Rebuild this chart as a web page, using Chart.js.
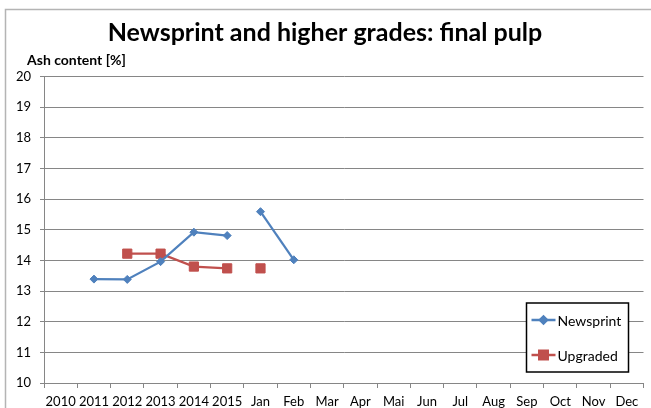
<!DOCTYPE html>
<html lang="en">
<head>
  <meta charset="UTF-8">
  <title>Newsprint and higher grades: final pulp</title>
  <script src="https://cdn.jsdelivr.net/npm/chart.js@4.4.0/dist/chart.umd.min.js"></script>
  <style>
    html, body { margin: 0; padding: 0; background: #fff; }
    #wrap { width: 651px; height: 408px; }
  </style>
</head>
<body>
  <div id="wrap"><canvas id="chart" width="651" height="408"></canvas></div>
  <script>
    const years = ['2010', '2011', '2012', '2013', '2014', '2015'];
    const months = ['Jan', 'Feb', 'Mar', 'Apr', 'Mai', 'Jun', 'Jul', 'Aug', 'Sep', 'Oct', 'Nov', 'Dec'];
    const labels = years.concat(months);

    // ash content, one value per category (null = no value)
    const newsprint = [null, 13.39, 13.38, 13.96, 14.92, 14.81, 15.59, 14.02, null, null, null, null, null, null, null, null, null, null];
    const upgraded  = [null, null, 14.22, 14.22, 13.80, 13.74, 13.74, null, null, null, null, null, null, null, null, null, null, null];

    const FONT = 'Lato, "Open Sans", sans-serif';
    const BLUE = '#4F81BD';
    const RED = '#C0504D';

    // yearly and monthly points are not joined by a line
    const breakYears = c => c.p0DataIndex === years.length - 1 ? 'transparent' : undefined;

    // grey frame round the chart
    const framePlugin = {
      id: 'frame',
      beforeDraw(chart) {
        const ctx = chart.ctx;
        ctx.save();
        ctx.fillStyle = '#fff';
        ctx.fillRect(0, 0, chart.width, chart.height);
        ctx.strokeStyle = '#b4b4b4';
        ctx.lineWidth = 1.5;
        ctx.strokeRect(5.5, 9.5, 700, 500);
        ctx.restore();
      }
    };

    // horizontal axis title above the value axis
    const axisTitlePlugin = {
      id: 'axisTitle',
      afterDraw(chart) {
        const ctx = chart.ctx;
        const a = chart.chartArea;
        ctx.save();
        ctx.font = 'bold 14px ' + FONT;
        ctx.fillStyle = '#000';
        ctx.textBaseline = 'middle';
        ctx.fillText('Ash content [%]', a.left - 17, a.top - 16);
        ctx.restore();
      }
    };

    // boxed legend in the lower right corner of the plot
    const legendPlugin = {
      id: 'boxLegend',
      afterDraw(chart) {
        const ctx = chart.ctx;
        const a = chart.chartArea;
        const w = 102, h = 69;
        const x = a.right - 15 - w, y = a.bottom - 11 - h;
        ctx.save();
        ctx.fillStyle = '#fff';
        ctx.fillRect(x, y, w, h);
        ctx.strokeStyle = '#000';
        ctx.lineWidth = 1.5;
        ctx.strokeRect(x, y, w, h);
        chart.data.datasets.forEach((ds, i) => {
          const cy = y + 17 + i * 35;
          ctx.strokeStyle = ds.borderColor;
          ctx.lineWidth = 2.5;
          ctx.beginPath();
          ctx.moveTo(x + 5, cy);
          ctx.lineTo(x + 29, cy);
          ctx.stroke();
          Chart.helpers.drawPoint(ctx, {
            pointStyle: ds.pointStyle,
            radius: ds.pointRadius - 0.5,
            borderWidth: 1
          }, x + 17, cy);
          ctx.fillStyle = ds.pointBackgroundColor;
          ctx.fill();
          ctx.fillStyle = '#000';
          ctx.font = '14px ' + FONT;
          ctx.textBaseline = 'middle';
          ctx.fillText(ds.label, x + 31, cy + 1);
        });
        ctx.restore();
      }
    };

    new Chart(document.getElementById('chart'), {
      type: 'line',
      data: {
        labels: labels,
        datasets: [{
          label: 'Newsprint',
          data: newsprint,
          borderColor: BLUE,
          backgroundColor: BLUE,
          pointBackgroundColor: BLUE,
          pointBorderColor: BLUE,
          borderWidth: 2.25,
          pointStyle: 'rectRot',
          pointRadius: 4,
          pointBorderWidth: 1,
          segment: { borderColor: breakYears },
          tension: 0
        }, {
          label: 'Upgraded',
          data: upgraded,
          borderColor: RED,
          backgroundColor: RED,
          pointBackgroundColor: RED,
          pointBorderColor: RED,
          borderWidth: 2.25,
          pointStyle: 'rect',
          pointRadius: 6.5,
          pointBorderWidth: 1,
          segment: { borderColor: breakYears },
          tension: 0
        }]
      },
      options: {
        responsive: false,
        animation: false,
        layout: { padding: { left: 5, right: 6, top: 0, bottom: 0 } },
        plugins: {
          legend: { display: false },
          tooltip: { enabled: false },
          title: {
            display: true,
            text: 'Newsprint and higher grades: final pulp',
            color: '#000',
            font: { family: FONT, size: 25, weight: 'bold', lineHeight: 1.2 },
            padding: { top: 18, bottom: 28.5 }
          }
        },
        scales: {
          x: {
            offset: true,
            grid: { offset: true, drawOnChartArea: false, tickLength: 5, color: '#868686' },
            border: { color: '#868686' },
            ticks: {
              color: '#000',
              font: { family: FONT, size: 13 },
              padding: 6,
              maxRotation: 0,
              autoSkip: false
            },
            afterFit(s) { s.height = 25; }
          },
          y: {
            min: 10,
            max: 20,
            grid: { color: '#868686', tickLength: 4 },
            border: { color: '#868686' },
            ticks: {
              stepSize: 1,
              color: '#000',
              font: { family: FONT, size: 13 },
              padding: 9
            },
            afterFit(s) { s.width = 39; }
          }
        }
      },
      plugins: [framePlugin, axisTitlePlugin, legendPlugin]
    });
  </script>
</body>
</html>
